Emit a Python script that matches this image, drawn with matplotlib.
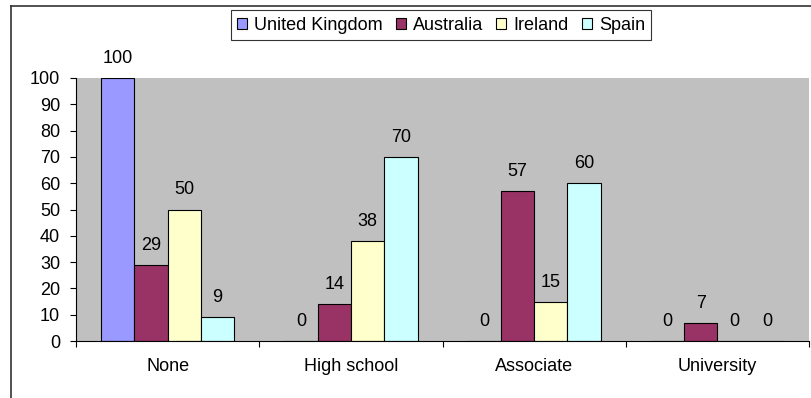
import matplotlib.pyplot as plt
import numpy as np
from matplotlib.lines import Line2D
from matplotlib.patches import Patch

plt.rcParams['font.family'] = ['Liberation Sans', 'DejaVu Sans']

categories = ['None', 'High school', 'Associate', 'University']
countries = ['United Kingdom', 'Australia', 'Ireland', 'Spain']
united_kingdom = [100, 0, 0, 0]
australia = [29, 14, 57, 7]
ireland = [50, 38, 15, 0]
spain = [9, 70, 60, 0]
series = [united_kingdom, australia, ireland, spain]
colors = ['#9999FF', '#993366', '#FFFFCC', '#CCFFFF']

fig = plt.figure(figsize=(8.11, 3.98), dpi=100)
ax = fig.add_axes([76 / 811, 57 / 398, 733 / 811, 263 / 398])
ax.set_facecolor('#C0C0C0')

# excel style gap width 150%
w = 1 / 5.5
x = np.arange(len(categories))
for i, (name, vals, c) in enumerate(zip(countries, series, colors)):
    pos = x + (i - 1.5) * w
    ax.bar(pos, vals, width=w, color=c, edgecolor='black', linewidth=0.8, label=name)
    for px, v in zip(pos, vals):
        ax.annotate(str(v), (px, v), xytext=(0, 10.8), textcoords='offset points',
                    ha='center', va='baseline', fontsize=13)

ax.set_xlim(-0.5, len(categories) - 0.5)
ax.set_ylim(0, 100)
ax.set_yticks(range(0, 101, 10))
ax.set_xticks(x)
ax.set_xticklabels(categories)
ax.set_xticks(np.arange(-0.5, len(categories)), minor=True)
ax.tick_params(axis='x', which='major', length=0, pad=12, labelsize=13)
ax.tick_params(axis='x', which='minor', length=4.5, width=0.8, direction='out')
ax.tick_params(axis='y', length=4.5, width=0.8, pad=7, labelsize=13)
for s in ['top', 'right']:
    ax.spines[s].set_visible(False)
for s in ['left', 'bottom']:
    ax.spines[s].set_linewidth(0.8)

handles = [Patch(facecolor=c, edgecolor='black', linewidth=0.8) for c in colors]
leg = fig.legend(handles, countries, loc='center', bbox_to_anchor=(441 / 811, 1 - 25 / 398),
                 bbox_transform=fig.transFigure, ncol=4, fontsize=13, frameon=True,
                 fancybox=False, handlelength=0.55, handleheight=0.55, handletextpad=0.4,
                 columnspacing=0.72, borderpad=0.35, borderaxespad=0)
leg.get_frame().set_edgecolor('black')
leg.get_frame().set_linewidth(0.8)

# chart area border (left and top edges)
bx, by = 11 / 811, 1 - 5.5 / 398
fig.add_artist(Line2D([bx, bx], [0, by], transform=fig.transFigure, color='#333333', lw=1.2))
fig.add_artist(Line2D([bx, 1], [by, by], transform=fig.transFigure, color='#333333', lw=1.2))

fig.savefig('out.png', dpi=100)
